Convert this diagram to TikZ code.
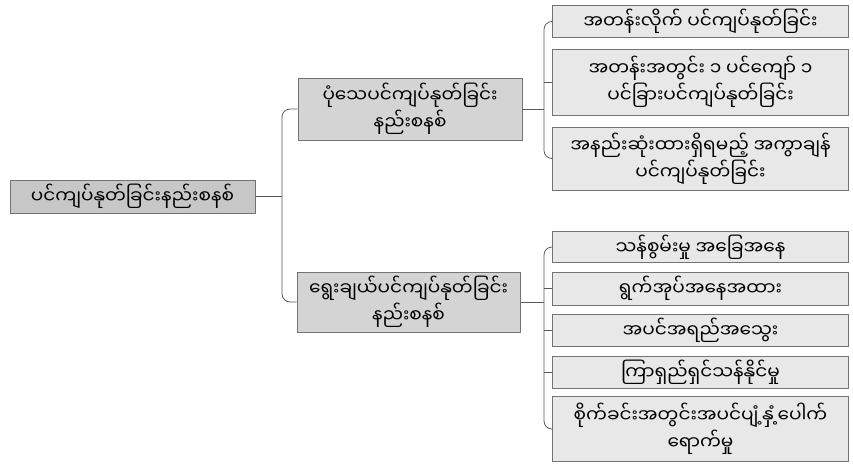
\documentclass[tikz,border=0pt]{standalone}
\usepackage{fontspec}
\newfontfamily\mmfont[Script=Myanmar]{Noto Sans Myanmar UI}
\usetikzlibrary{positioning}

\begin{document}
\begin{tikzpicture}[x=1pt, y=-1pt,
    box/.style={draw=black!55, line width=1pt, align=center, font=\mmfont\fontsize{18.5}{27}\selectfont, inner sep=2pt},
    rootbox/.style={box, fill=black!22},
    midbox/.style={box, fill=black!17},
    leafbox/.style={box, fill=black!9, minimum width=296pt},
    edge/.style={draw=black!65, line width=0.8pt, rounded corners=8pt}]
            \useasboundingbox (0,0) rectangle (853,467);

            % Define nodes
            \node[rootbox, minimum width=245pt, minimum height=33pt] (root) at (132.5,196.5) {ပင်ကျပ်နုတ်ခြင်းနည်းစနစ်};
            \node[midbox, minimum width=224pt, minimum height=62pt] (fixed) at (410,109) {ပုံသေပင်ကျပ်နုတ်ခြင်း\\နည်းစနစ်};
            \node[midbox, minimum width=223pt, minimum height=60pt] (select) at (408.5,302) {ရွေးချယ်ပင်ကျပ်နုတ်ခြင်း\\နည်းစနစ်};

            \node[leafbox, minimum height=32pt] (row) at (700.5,21.5) {အတန်းလိုက် ပင်ကျပ်နုတ်ခြင်း};
            \node[leafbox, minimum height=66pt] (alt) at (700.5,82) {အတန်းအတွင်း ၁ ပင်ကျော် ၁\\ပင်ခြားပင်ကျပ်နုတ်ခြင်း};
            \node[leafbox, minimum height=63pt] (space) at (700.5,158.5) {အနည်းဆုံးထားရှိရမည့် အကွာချန်\\ပင်ကျပ်နုတ်ခြင်း};

            \node[leafbox, minimum height=31pt] (vigor) at (700.5,247) {သန်စွမ်းမှု အခြေအနေ};
            \node[leafbox, minimum height=33pt] (crown) at (700.5,288.5) {ရွက်အုပ်အနေအထား};
            \node[leafbox, minimum height=32pt] (quality) at (700.5,330) {အပင်အရည်အသွေး};
            \node[leafbox, minimum height=32pt] (survive) at (700.5,372) {ကြာရှည်ရှင်သန်နိုင်မှု};
            \node[leafbox, minimum height=65pt] (spread) at (700.5,429) {စိုက်ခင်းအတွင်းအပင်ပျံ့နှံ့ပေါက်\\ရောက်မှု};

            \coordinate (j1) at (282,196.5);
            \coordinate (j2) at (544,109);
            \coordinate (j3) at (544,302);

            % Draw edges
            \draw[edge] (root.east) -- (j1);
            \draw[edge] (fixed.west) -| (j1) |- (select.west);

            \draw[edge] (fixed.east) -- (j2);
            \draw[edge] (row.west) -| (j2) |- (space.west);
            \draw[edge] (alt.west) -- (alt.west -| j2);

            \draw[edge] (select.east) -- (j3);
            \draw[edge] (vigor.west) -| (j3) |- (spread.west);
            \draw[edge] (crown.west) -- (crown.west -| j3);
            \draw[edge] (quality.west) -- (quality.west -| j3);
            \draw[edge] (survive.west) -- (survive.west -| j3);

        \end{tikzpicture}
\end{document}
